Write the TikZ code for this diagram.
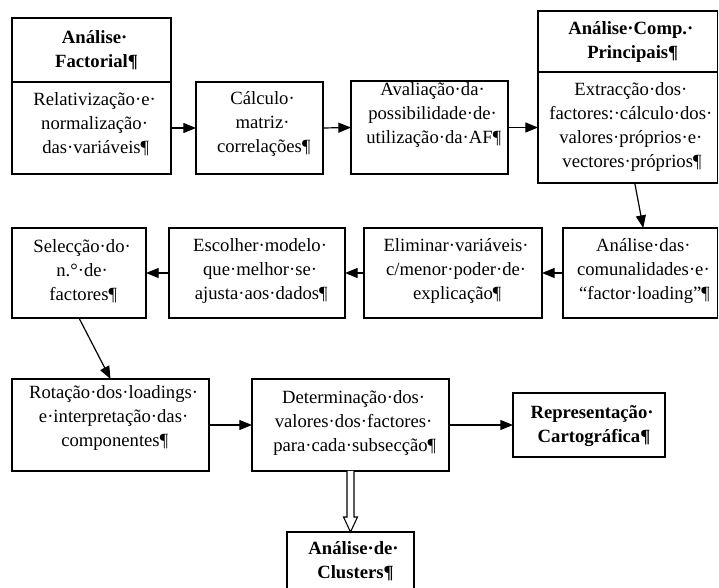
\documentclass[tikz,border=0pt]{standalone}
\usepackage{fontspec}
\setmainfont{Liberation Serif}
\usetikzlibrary{arrows.meta,calc}
% trailing space mark and paragraph mark, not counted when centring a line
\newcommand\tdot{\rlap{·}}
\newcommand\pmark{\rlap{¶}}
\begin{document}
\begin{tikzpicture}[x=0.75pt,y=-0.75pt,
  sz/.style 2 args={minimum width=#1*0.75pt, minimum height=#2*0.75pt},
  box/.style={draw, line width=1.1pt, inner sep=0pt, outer sep=0pt},
  txt/.style={align=center, font=\fontsize{14}{18}\selectfont, inner sep=0pt},
  btxt/.style={align=center, font=\fontsize{14}{18}\selectfont\bfseries, inner sep=0pt},
  link/.style={line width=0.9pt, -{Triangle[length=9.5pt,width=7.5pt]}}]
\clip (0,0) rectangle (719,588);
\fill[white] (0,0) rectangle (719,588);

% first row
\node[box, sz={159}{64}]    (h1)  at (91.5,50)    {};
\node[box, sz={159}{92}]    (b1)  at (91.5,128)   {};
\node[box, sz={127}{92}]    (b2)  at (259.5,128)  {};
\node[box, sz={157}{93}]    (b3)  at (429.5,127.5){};
\node[box, sz={179.5}{61}]  (h4)  at (627.75,41.5){};
\node[box, sz={179.5}{111}] (b4)  at (627.75,127.5){};

\node[btxt] (h1t) at (91.5,50) {Análise\tdot\\Factorial\pmark};
\node[txt]  (b1t) at (91.5,124) {Relativização·e\tdot\\normalização\tdot\\das·variáveis\pmark};
\node[txt]  (b2t) at (259.5,124) {Cálculo\tdot\\matriz\tdot\\correlações\pmark};
\node[txt]  (b3t) at (429.5,115) {Avaliação·da\tdot\\possibilidade·de\tdot\\utilização·da·AF\pmark};
\node[btxt] (h4t) at (627.75,42) {Análise·Comp.\tdot\\Principais\pmark};
\node[txt]  (b4t) at (627.75,127) {Extracção·dos\tdot\\factores:·cálculo·dos\tdot\\valores·próprios·e\tdot\\vectores·próprios\pmark};

% second row
\node[box, sz={154.5}{90}] (c5) at (640.25,273) {};
\node[box, sz={178}{90}]   (e6) at (453,273)    {};
\node[box, sz={176}{90}]   (e7) at (257,273)    {};
\node[box, sz={134}{90}]   (s8) at (79,273)     {};

\node[txt] (c5t) at (640.25,271) {Análise·das\tdot\\comunalidades·e\tdot\\“factor·loading”\pmark};
\node[txt] (e6t) at (453,271) {Eliminar·variáveis\tdot\\c/menor·poder·de\tdot\\explicação\pmark};
\node[txt] (e7t) at (257,271) {Escolher·modelo\tdot\\que·melhor·se\tdot\\ajusta·aos·dados\pmark};
\node[txt] (s8t) at (79,271) {Selecção·do\tdot\\n.°·de\tdot\\factores\pmark};

% third row and result
\node[box, sz={197}{92}]  (r9)  at (110.5,425) {};
\node[box, sz={197}{92}]  (d10) at (350.5,425) {};
\node[box, sz={152}{64}]  (p11) at (589,425)   {};
\node[box, sz={127}{68}]  (k12) at (350.5,566) {};

\node[txt]  (r9t)  at (110.5,418) {Rotação·dos·loadings\tdot\\e·interpretação·das\tdot\\componentes\pmark};
\node[txt]  (d10t) at (350.5,423) {Determinação·dos\tdot\\valores·dos·factores\tdot\\para·cada·subsecção\pmark};
\node[btxt] (p11t) at (589,426) {Representação\tdot\\Cartográfica\pmark};
\node[btxt] (k12t) at (350.5,561) {Análise·de\tdot\\Clusters\pmark};

% connectors
\draw[link] (b1.east) -- (b2.west);
\draw[link] (b2.east) -- (b3.west);
\draw[link] (b3.east) -- (b4.west);
\draw[link] ([xshift=7*0.75pt]b4.south) -- ([xshift=3*0.75pt]c5.north);
\draw[link] (c5.west) -- (e6.east);
\draw[link] (e6.west) -- (e7.east);
\draw[link] (e7.west) -- (s8.east);
\draw[link] (s8.south) -- (r9.north);
\draw[link] (r9.east) -- (d10.west);
\draw[link] (d10.east) -- (p11.west);

% hollow double-line arrow down to the cluster analysis
\draw[line width=0.8pt, fill=white, line join=miter]
  ($(d10.south)+(-3.5,0)$) -- ($(k12.north)+(-3.5,-15)$) -- ($(k12.north)+(-7,-15)$)
  -- (k12.north) -- ($(k12.north)+(7,-15)$) -- ($(k12.north)+(3.5,-15)$)
  -- ($(d10.south)+(3.5,0)$);
\end{tikzpicture}
\end{document}
